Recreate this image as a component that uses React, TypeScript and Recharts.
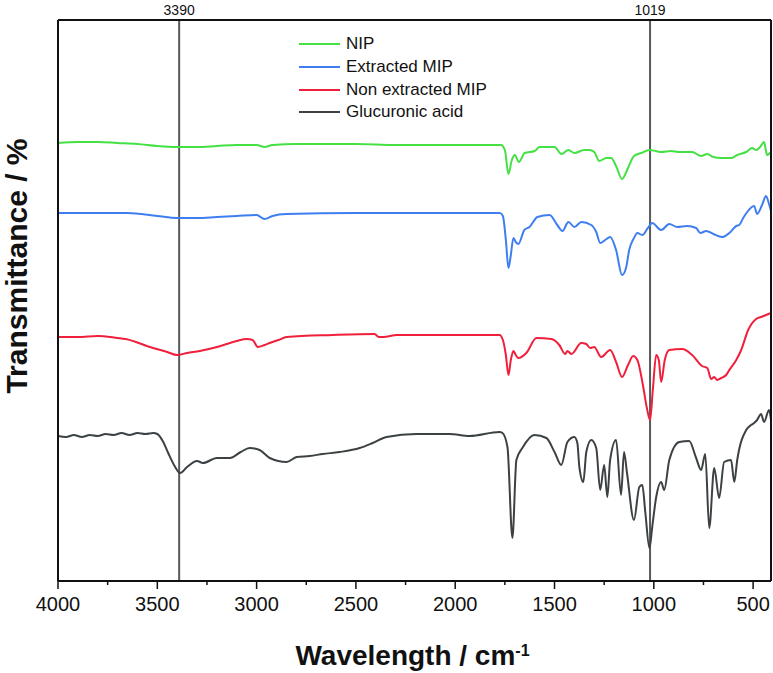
import React from "react";
import { LineChart, Line, XAxis, YAxis, ReferenceLine, Legend } from "recharts";

// Wavenumber (cm-1) / relative transmittance (offset, arbitrary units)
const nipWave = [4000,3900,3800,3700,3600,3500,3400,3300,3200,3100,3000,2960,2920,2800,2500,2300,2200,2000,1800,1770,1750,1732,1715,1700,1680,1650,1600,1575,1500,1465,1430,1400,1350,1325,1300,1275,1240,1215,1190,1160,1130,1100,1063,1023,990,963,912,872,807,762,731,700,661,611,580,535,505,485,465,445,430,410];
const nipT = [438,439,439,438,437,435,434,434,435,436,436,434,436,437,437,436,436,436,436,436,431,407,421,426,419,428,430,434,434,427,431,428,431,431,429,420,423,423,415,402,413,425,428,431,430,429,430,429,429,425,427,424,423,423,426,429,433,431,434,439,426,429];

const extWave = [4000,3800,3650,3500,3400,3300,3200,3100,3000,2960,2920,2850,2500,2000,1775,1760,1745,1732,1720,1707,1695,1682,1652,1626,1586,1525,1486,1460,1430,1400,1365,1315,1290,1270,1245,1220,1190,1160,1140,1124,1100,1083,1058,1030,1008,963,922,882,832,787,766,736,700,656,620,585,570,550,530,495,480,455,435,420,410];
const extT = [368,368,368,365,363,363,364,365,366,362,365,367,368,368,368,365,341,313,326,343,339,337,351,354,364,366,356,350,359,354,359,356,349,338,341,344,331,306,313,331,343,348,346,353,358,351,357,354,355,353,348,350,347,344,348,355,356,363,369,375,367,376,385,377,370];

const nonWave = [4000,3900,3800,3700,3660,3537,3450,3400,3350,3286,3200,3100,3050,3020,2994,2960,2934,2890,2849,2617,2406,2385,2360,2295,2000,1777,1760,1745,1732,1720,1707,1695,1682,1642,1591,1516,1476,1446,1435,1415,1365,1340,1320,1300,1265,1220,1190,1160,1130,1104,1083,1055,1035,1019,1005,988,975,963,945,922,857,807,757,731,711,696,681,660,636,620,585,560,525,485,460,435,410];
const nonT = [244,244,245,243,242,234,229,226,228,230,234,240,242,241,234,236,238,241,244,246,247,244,244,246,246,246,241,226,206,221,230,226,223,228,243,242,236,227,230,227,238,237,233,234,224,231,219,204,216,225,221,196,173,161,191,226,221,199,221,231,232,226,215,213,202,204,201,203,206,211,221,231,251,262,264,266,268];

const gluWave = [4000,3960,3920,3880,3840,3800,3760,3720,3680,3640,3600,3560,3520,3500,3470,3445,3410,3385,3350,3300,3270,3200,3135,3080,3035,2985,2934,2849,2798,2733,2667,2582,2481,2416,2346,2195,2029,1928,1777,1762,1737,1712,1692,1662,1601,1541,1500,1466,1435,1400,1385,1375,1355,1340,1315,1290,1270,1250,1234,1220,1190,1165,1150,1135,1100,1073,1058,1043,1022,1008,988,963,948,922,872,822,787,762,741,721,696,671,646,611,595,580,535,510,495,480,460,445,420,410];
const gluT = [145,144,146,144,146,145,147,146,148,146,148,147,148,147,139,128,114,108,114,120,118,123,123,129,133,131,123,119,124,125,127,129,133,138,144,147,147,145,149,148,134,43,121,133,146,143,129,116,139,144,138,114,99,129,141,133,91,116,84,121,141,86,129,108,61,94,96,69,33,54,84,99,91,121,139,140,123,111,127,53,113,83,119,121,99,121,151,156,158,161,167,159,171,161];

const markerWaves = [3390, 1019];
const bottomTicks = [4000,3750,3500,3250,3000,2750,2500,2250,2000,1750,1500,1250,1000,750,500];

const toRows = (w: number[], t: number[]) => w.map((x, i) => ({ w: x, t: t[i] }));

const series = [
  { name: "NIP", color: "#44e044", data: toRows(nipWave, nipT) },
  { name: "Extracted MIP", color: "#3f7ef0", data: toRows(extWave, extT) },
  { name: "Non extracted MIP", color: "#f0203c", data: toRows(nonWave, nonT) },
  { name: "Glucuronic acid", color: "#3c4144", data: toRows(gluWave, gluT) },
];

const FONT = "'Liberation Sans', Arial, Helvetica, sans-serif";

const BottomTick = (props: any) => {
  const { x, y, payload } = props;
  const major = payload.value % 500 === 0;
  return (
    <g>
      <line x1={x} x2={x} y1={y} y2={y + (major ? 8 : 4)} stroke="#111" strokeWidth={1.5} />
      {major && (
        <text x={x} y={y + 30} textAnchor="middle" fontSize={20} fontFamily={FONT} fill="#111">
          {payload.value}
        </text>
      )}
    </g>
  );
};

const LegendContent = () => (
  <div style={{ fontFamily: FONT, fontSize: 17, color: "#111" }}>
    {series.map((s) => (
      <div key={s.name} style={{ height: 22.7, display: "flex", alignItems: "center" }}>
        <span style={{ display: "inline-block", width: 41, height: 2, background: s.color, marginRight: 6 }} />
        <span>{s.name}</span>
      </div>
    ))}
  </div>
);

export default function App() {
  return (
    <div style={{ position: "absolute", left: 0, top: 0, width: 773, height: 673, background: "#fff" }}>
      <LineChart width={773} height={673} margin={{ top: 19, right: 1, bottom: 91, left: 57 }}>
        <XAxis
          dataKey="w"
          type="number"
          domain={[410, 4000]}
          reversed
          allowDataOverflow
          ticks={bottomTicks}
          interval={0}
          height={1}
          tickSize={0}
          tickMargin={0}
          tickLine={false}
          axisLine={{ stroke: "#111", strokeWidth: 2 }}
          tick={<BottomTick />}
        />
        <XAxis
          xAxisId="top"
          orientation="top"
          type="number"
          domain={[410, 4000]}
          reversed
          height={1}
          tick={false}
          tickLine={false}
          axisLine={{ stroke: "#111", strokeWidth: 2 }}
        />
        <YAxis
          type="number"
          domain={[0, 561]}
          allowDataOverflow
          width={1}
          tick={false}
          tickLine={false}
          axisLine={{ stroke: "#111", strokeWidth: 2 }}
        />
        <YAxis
          yAxisId="right"
          orientation="right"
          type="number"
          domain={[0, 561]}
          width={1}
          tick={false}
          tickLine={false}
          axisLine={{ stroke: "#111", strokeWidth: 2 }}
        />
        {markerWaves.map((m) => (
          <ReferenceLine
            key={m}
            x={m}
            stroke="#555a5c"
            strokeWidth={2}
            label={{ value: String(m), position: "top", offset: 5, fontSize: 14, fontFamily: FONT, fill: "#111" }}
          />
        ))}
        {series.map((s) => (
          <Line
            key={s.name}
            data={s.data}
            dataKey="t"
            name={s.name}
            type="monotone"
            stroke={s.color}
            strokeWidth={2}
            dot={false}
            activeDot={false}
            isAnimationActive={false}
          />
        ))}
        <Legend
          layout="vertical"
          verticalAlign="middle"
          align="center"
          wrapperStyle={{ position: "absolute", left: 299, top: 33, width: 240 }}
          content={<LegendContent />}
        />
      </LineChart>
      <div
        style={{
          position: "absolute",
          left: 0,
          top: 638,
          width: 825,
          textAlign: "center",
          fontFamily: FONT,
          fontWeight: "bold",
          fontSize: 28,
          color: "#111",
          lineHeight: "36px",
        }}
      >
        Wavelength / cm<sup style={{ fontSize: 16, verticalAlign: "top", lineHeight: "26px" }}>-1</sup>
      </div>
      <div
        style={{
          position: "absolute",
          left: 17,
          top: 266,
          transform: "translate(-50%, -50%) rotate(-90deg)",
          whiteSpace: "nowrap",
          fontFamily: FONT,
          fontWeight: "bold",
          fontSize: 30,
          lineHeight: "34px",
          color: "#111",
        }}
      >
        Transmittance / %
      </div>
    </div>
  );
}
